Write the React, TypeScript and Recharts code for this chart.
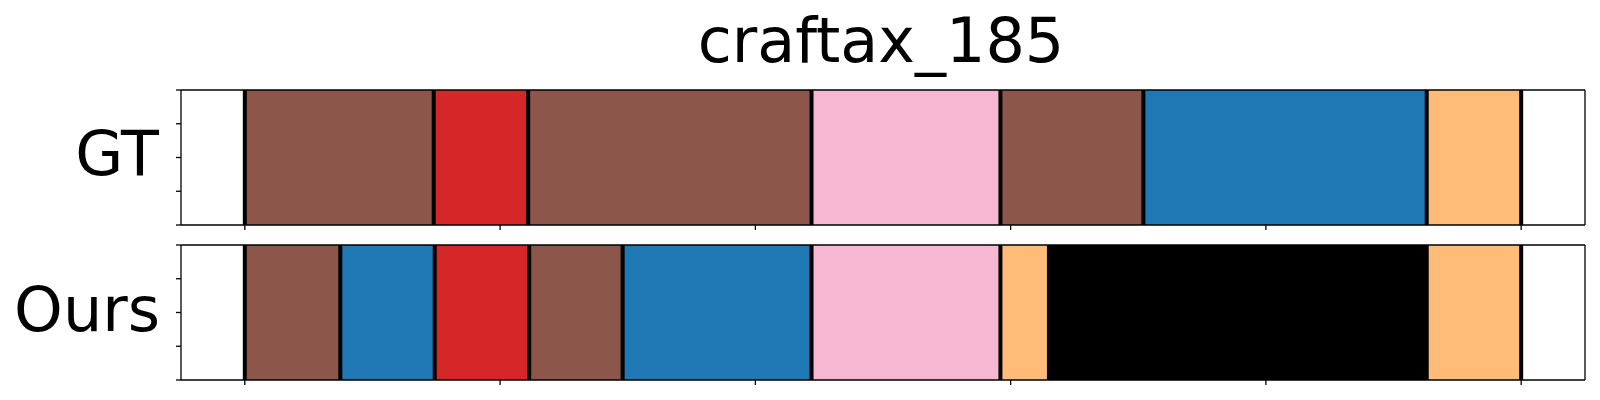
import { BarChart, Bar, XAxis, YAxis, ReferenceLine, LineChart, Line } from "recharts";

// segment colours (tab20 style)
const segmentColors: Record<string, string> = {
  brown: "#8c564b",
  red: "#d62728",
  pink: "#f7b6d2",
  blue: "#1f77b4",
  orange: "#ffbb78",
  black: "#000000",
};

const gtLabels = ["brown", "red", "brown", "pink", "brown", "blue", "orange"];
const gtLengths = [37, 18.5, 55.5, 37, 28, 55.5, 18.5];

const oursLabels = ["brown", "blue", "red", "brown", "blue", "pink", "orange", "black", "orange"];
const oursLengths = [18.7, 18.5, 18.5, 18.3, 37, 37, 9.5, 74, 18.5];

const xTicks = [0, 50, 100, 150, 200, 250];
const yTicks = [0, 1, 2, 3, 4];
const xDomain = [-12.5, 262.5];

const FONT = "DejaVu Sans, sans-serif";
const axisStyle = { stroke: "#000", strokeWidth: 1.3 };

function Panel({
  name,
  labels,
  lengths,
  top,
  height,
  marginTop,
  marginBottom,
}: {
  name: string;
  labels: string[];
  lengths: number[];
  top: number;
  height: number;
  marginTop: number;
  marginBottom: number;
}) {
  const row: Record<string, string | number> = { name };
  lengths.forEach((v, i) => (row["s" + i] = v));
  const bounds = [0];
  lengths.forEach((v) => bounds.push(bounds[bounds.length - 1] + v));

  return (
    <div style={{ position: "absolute", left: 0, top, width: 1600, height }}>
      <BarChart
        width={1600}
        height={height}
        data={[row]}
        layout="vertical"
        barCategoryGap={0}
        margin={{ top: marginTop, right: 14, bottom: marginBottom, left: 180 }}
      >
        <XAxis
          type="number"
          domain={xDomain}
          ticks={xTicks}
          tickFormatter={() => ""}
          height={1}
          tickSize={5}
          axisLine={axisStyle}
          tickLine={axisStyle}
          allowDataOverflow
        />
        <XAxis xAxisId="top" orientation="top" type="number" domain={xDomain} tick={false} tickLine={false} height={1} axisLine={axisStyle} />
        <YAxis type="category" dataKey="name" hide width={0} />
        <YAxis yAxisId="left" type="category" tick={false} tickLine={false} width={1} axisLine={axisStyle} />
        <YAxis yAxisId="right" orientation="right" type="category" tick={false} tickLine={false} width={1} axisLine={axisStyle} />
        {labels.map((c, i) => (
          <Bar key={i} dataKey={"s" + i} stackId="seg" fill={segmentColors[c]} isAnimationActive={false} />
        ))}
        {bounds.map((b, i) => (
          <ReferenceLine key={"b" + i} x={b} stroke="#000" strokeWidth={4} zIndex={1000} />
        ))}
      </BarChart>
      {/* y tick marks (no labels) */}
      <div style={{ position: "absolute", left: 0, top: 0, pointerEvents: "none" }}>
        <LineChart
          width={1600}
          height={height}
          data={[{ y: 0 }, { y: 4 }]}
          margin={{ top: marginTop + 1, right: 15, bottom: marginBottom + 1, left: 180 }}
        >
          <XAxis hide height={0} />
          <YAxis
            type="number"
            domain={[0, 4]}
            ticks={yTicks}
            tickFormatter={() => ""}
            width={1}
            tickSize={5}
            axisLine={false}
            tickLine={axisStyle}
          />
          <Line dataKey="y" stroke="none" dot={false} activeDot={false} isAnimationActive={false} />
        </LineChart>
      </div>
    </div>
  );
}

export default function App() {
  return (
    <div style={{ position: "absolute", left: 0, top: 0, width: 1600, height: 400, background: "#fff" }}>
      <svg width={1600} height={400} style={{ position: "absolute", left: 0, top: 0 }}>
        <text x={881} y={62} textAnchor="middle" fontFamily={FONT} fontSize={62} fill="#000">
          craftax_185
        </text>
        <text x={159} y={175} textAnchor="end" fontFamily={FONT} fontSize={62} fill="#000">
          GT
        </text>
        <text x={160} y={331} textAnchor="end" fontFamily={FONT} fontSize={62} fill="#000">
          Ours
        </text>
      </svg>
      <Panel name="GT" labels={gtLabels} lengths={gtLengths} top={0} height={240} marginTop={89} marginBottom={14} />
      <Panel name="Ours" labels={oursLabels} lengths={oursLengths} top={240} height={160} marginTop={4} marginBottom={19} />
    </div>
  );
}
